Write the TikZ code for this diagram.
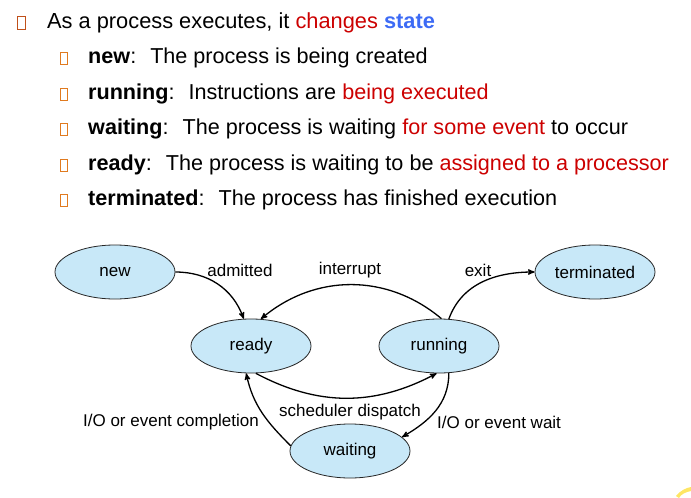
\documentclass[tikz,border=0pt]{standalone}
\usepackage{fontspec}
\setmainfont{Liberation Sans}
\usepackage{tikz}
\usetikzlibrary{arrows,shapes.geometric}
\definecolor{slidered}{HTML}{CC0000}
\definecolor{slideblue}{HTML}{3D6BF5}
\definecolor{statefill}{HTML}{C8E8F8}
\definecolor{bulletdark}{HTML}{C0501A}
\definecolor{bulletlight}{HTML}{E07A1F}
\tikzset{
  textline/.style = {anchor=base west, inner sep=0pt,
    font=\fontsize{21.6}{25}\selectfont},% bullet line
  headline/.style = {textline, font=\fontsize{21.8}{26}\selectfont},% top line
  st_node/.style = {ellipse, draw=black!85, fill=statefill, line width=0.8pt,
    minimum width=120pt, minimum height=54pt, inner sep=0pt,
    font=\fontsize{17}{20}\selectfont},% state
  st_label/.style = {inner sep=0pt, font=\fontsize{17}{20}\selectfont},% edge text
  trans/.style = {->, line width=1.3pt}% transition
}

\begin{document}
\begin{tikzpicture}[x=1pt,y=1pt,>=stealth']
	\useasboundingbox (0,0) rectangle (691,-498);

	% text
	\draw[bulletdark, line width=1pt] (17,-16) rectangle (25,-29);
	\foreach \yy in {63,99,134,170,205}
		\draw[bulletlight, line width=1pt] (60.5,{11-\yy}) rectangle (67,{-1-\yy});
	\node[headline] (head) at (47,-28) {As a process executes, it \textcolor{slidered}{changes} \textcolor{slideblue}{\textbf{state}}};
	\node[textline] (l_new) at (88,-63) {\textbf{new}:~ The process is being created};
	\node[textline] (l_running) at (88,-99) {\textbf{running}:~ Instructions are \textcolor{slidered}{being executed}};
	\node[textline] (l_waiting) at (88,-134) {\textbf{waiting}:~ The process is waiting \textcolor{slidered}{for some event} to occur};
	\node[textline] (l_ready) at (88,-170) {\textbf{ready}:~ The process is waiting to be \textcolor{slidered}{assigned to a processor}};
	\node[textline] (l_term) at (88,-205) {\textbf{terminated}:~ The process has finished execution};

	% states
	\node[st_node] (st_new) at (115,-272) {new};
	\node[st_node] (st_ready) at (251,-346) {ready};
	\node[st_node] (st_running) at (439,-346) {running};
	\node[st_node] (st_term) at (595,-272) {terminated};
	\node[st_node] (st_waiting) at (350,-451) {waiting};

	\node[st_label] (lb_admitted) at (240,-270) {admitted};
	\node[st_label] (lb_interrupt) at (350,-270) {interrupt};
	\node[st_label] (lb_exit) at (478,-270) {exit};
	\node[st_label] (lb_dispatch) at (350,-412) {scheduler dispatch};
	\node[st_label] (lb_complete) at (171,-422) {I/O or event completion};
	\node[st_label, anchor=west] (lb_wait) at (437,-422) {I/O or event wait};

	\draw[trans] (st_new.east) to[out=0,in=110] (st_ready.105);
	\draw[trans] (st_running.85) to[out=140,in=40] (st_ready.70);
	\draw[trans] (st_running.70) to[out=70,in=180] (st_term.west);
	\draw[trans] (st_ready.-80) to[out=-28,in=-152] (st_running.-95);
	\draw[trans] (st_running.-70) to[out=-90,in=30] (st_waiting.15);
	\draw[trans] (st_waiting.175) to[out=135,in=-78] (st_ready.-100);

	\fill[yellow!75!orange!60] (676,-496) .. controls (681,-490) and (686,-488) .. (691,-487)
		-- (691,-491) .. controls (686,-492) and (681,-494) .. (679,-498) -- cycle;

\end{tikzpicture}
\end{document}
